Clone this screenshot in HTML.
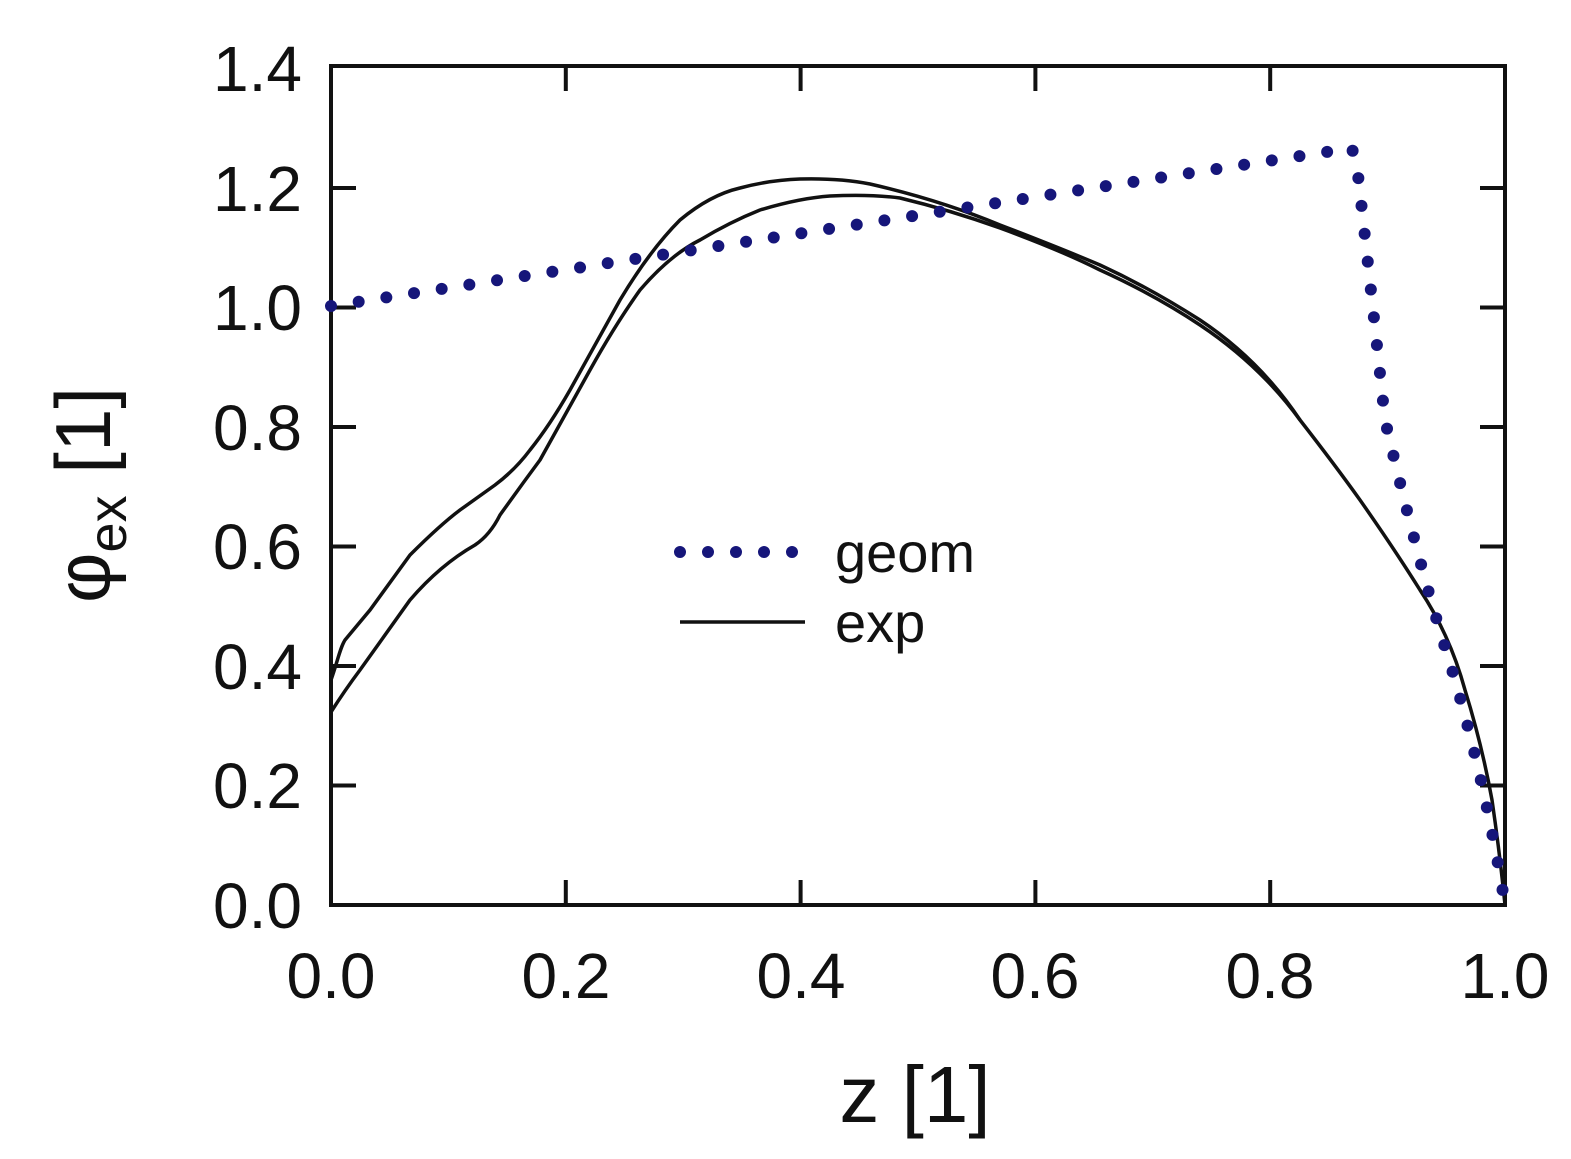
<!DOCTYPE html>
<html><head><style>
html,body{margin:0;padding:0;background:#fff;}
svg{display:block;font-family:"Liberation Sans",Arial,sans-serif;}
</style></head><body>
<svg width="1571" height="1159" viewBox="0 0 1571 1159">
<g stroke="#111" stroke-width="4" fill="none">
<rect x="331" y="66" width="1174" height="839"/>
<path d="M331 785.5h25M331 666h25M331 546.5h25M331 427h25M331 307.5h25M331 188h25
M1505 785.5h-25M1505 666h-25M1505 546.5h-25M1505 427h-25M1505 307.5h-25M1505 188h-25
M565.8 905v-25M800.6 905v-25M1035.4 905v-25M1270.2 905v-25
M565.8 66v25M800.6 66v25M1035.4 66v25M1270.2 66v25"/>
</g>
<g font-size="64" fill="#111" text-anchor="end">
<text x="302" y="928">0.0</text><text x="302" y="808">0.2</text><text x="302" y="689">0.4</text>
<text x="302" y="569">0.6</text><text x="302" y="450">0.8</text><text x="302" y="330">1.0</text>
<text x="302" y="211">1.2</text><text x="302" y="91">1.4</text>
</g>
<g font-size="64" fill="#111" text-anchor="middle">
<text x="331" y="998">0.0</text><text x="566" y="998">0.2</text><text x="801" y="998">0.4</text>
<text x="1035" y="998">0.6</text><text x="1270" y="998">0.8</text><text x="1505" y="998">1.0</text>
<text x="915" y="1122" font-size="80">z [1]</text>
</g>
<text transform="translate(110,495) rotate(-90)" font-size="78" fill="#111" text-anchor="middle">φ<tspan font-size="54" dy="16">ex</tspan><tspan dy="-16"> [1]</tspan></text>
<g fill="none" stroke="#111" stroke-width="3.5">
<path d="M331 680 C338 660 340 648 345 640 L370 610 L410 555 Q440 525 460 510 L495 485 Q515 470 530 450 Q550 425 570 390 Q595 345 620 300 Q650 250 680 220 Q710 195 740 188 Q770 180 800 179 Q840 178 870 184 Q940 200 1000 225 Q1060 248 1100 265 Q1150 288 1200 320 Q1260 360 1300 420 Q1335 465 1360 500 Q1395 550 1420 590 Q1450 635 1465 690 Q1482 745 1492 800 Q1500 855 1505 905"/>
<path d="M331 712 Q345 690 360 670 L410 600 Q440 565 475 545 Q490 535 500 515 Q520 487 540 460 Q565 415 590 370 Q615 325 640 290 Q670 255 700 240 Q730 222 760 210 Q800 198 830 196 Q870 194 900 198 Q950 210 1000 228 Q1060 250 1100 270 Q1155 295 1200 325 Q1260 365 1300 420"/>
<path d="M680 622H805"/>
</g>
<g fill="none" stroke="#16167a" stroke-width="12" stroke-linecap="round" stroke-dasharray="0 28">
<path d="M331 306 L1352 148 L1358 175 Q1370 280 1385 420 Q1420 570 1450 663 Q1485 780 1505 905"/>
<path d="M680 552H805"/>
</g>
<g font-size="56" fill="#111">
<text x="835" y="572">geom</text>
<text x="835" y="642">exp</text>
</g>
</svg>
</body></html>
